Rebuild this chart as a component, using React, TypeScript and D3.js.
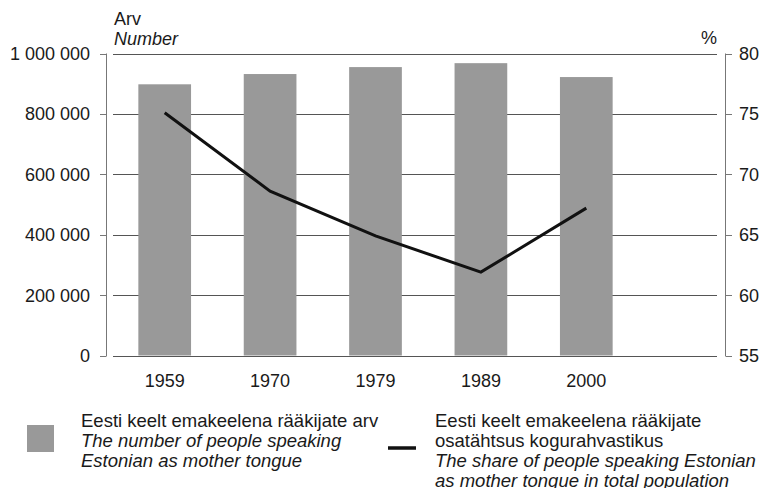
import React from "react";
import * as d3 from "d3";

const years = ["1959", "1970", "1979", "1989", "2000"];
const speakers = [898000, 932000, 955000, 968000, 922000];
const sharePct = [75.1, 68.6, 64.9, 61.9, 67.2];
const leftTicks = [0, 200000, 400000, 600000, 800000, 1000000];
const leftTickLabels = ["0", "200 000", "400 000", "600 000", "800 000", "1 000 000"];
const rightTicks = [55, 60, 65, 70, 75, 80];
const rightTickLabels = ["55", "60", "65", "70", "75", "80"];
const leftTitle = ["Arv", "Number"];
const rightTitle = "%";
const legendBar = ["Eesti keelt emakeelena rääkijate arv", "The number of people speaking", "Estonian as mother tongue"];
const legendLine = [
  "Eesti keelt emakeelena rääkijate",
  "osatähtsus kogurahvastikus",
  "The share of people speaking Estonian",
  "as mother tongue in total population",
];

const W = 763;
const H = 488;
const TOP = 53.5;
const BOTTOM = 355.5;
const FONT = "'Liberation Sans', Arial, sans-serif";

export default function App() {
  const yL = d3.scaleLinear().domain([0, 1000000]).range([BOTTOM, TOP]);
  const yR = d3.scaleLinear().domain([55, 80]).range([BOTTOM, TOP]);
  const x = d3.scaleBand<string>().domain(years).range([112, 639]).paddingInner(0.5).paddingOuter(0.25);
  const line = d3
    .line<number>()
    .x((_, i) => (x(years[i]) as number) + x.bandwidth() / 2)
    .y((d) => yR(d));

  const gridX0 = 113;
  const gridX1 = 717;
  const axL = 106.5;
  const axR = 725.5;
  const fs = 18;
  const lfs = 18.5;
  const lh = 20;
  const txt = "#1a1a1a";

  return (
    <svg width={W} height={H} style={{ position: "absolute", left: 0, top: 0, fontFamily: FONT }}>
      <rect width={W} height={H} fill="#fff" />
      {leftTicks.map((t) => (
        <line key={"g" + t} x1={gridX0} x2={gridX1} y1={Math.round(yL(t)) + 0.5} y2={Math.round(yL(t)) + 0.5} stroke="#555" strokeWidth={1} />
      ))}
      {speakers.map((v, i) => (
        <rect key={"b" + i} x={x(years[i])} y={yL(v)} width={x.bandwidth()} height={BOTTOM - yL(v)} fill="#999999" />
      ))}
      <path d={line(sharePct) || ""} fill="none" stroke="#111" strokeWidth={3} strokeLinejoin="miter" />
      <line x1={axL} x2={axL} y1={TOP} y2={BOTTOM + 0.5} stroke="#777" strokeWidth={1} />
      {leftTicks.map((t, i) => (
        <g key={"lt" + t}>
          <line x1={100} x2={axL} y1={Math.round(yL(t)) + 0.5} y2={Math.round(yL(t)) + 0.5} stroke="#777" />
          <text x={90} y={yL(t)} dy="0.36em" textAnchor="end" fontSize={fs} fill={txt}>
            {leftTickLabels[i]}
          </text>
        </g>
      ))}
      <line x1={axR} x2={axR} y1={TOP} y2={BOTTOM + 0.5} stroke="#777" strokeWidth={1} />
      {rightTicks.map((t, i) => (
        <g key={"rt" + t}>
          <line x1={axR} x2={732} y1={Math.round(yR(t)) + 0.5} y2={Math.round(yR(t)) + 0.5} stroke="#777" />
          <text x={739} y={yR(t)} dy="0.36em" textAnchor="start" fontSize={fs} fill={txt}>
            {rightTickLabels[i]}
          </text>
        </g>
      ))}
      {years.map((yr) => (
        <text key={"x" + yr} x={(x(yr) as number) + x.bandwidth() / 2} y={387} textAnchor="middle" fontSize={fs} fill={txt}>
          {yr}
        </text>
      ))}
      <text x={114} y={25} fontSize={fs} fill={txt}>{leftTitle[0]}</text>
      <text x={114} y={45} fontSize={fs} fontStyle="italic" fill={txt}>{leftTitle[1]}</text>
      <text x={717} y={43.5} fontSize={fs} textAnchor="end" fill={txt}>{rightTitle}</text>
      <rect x={27} y={425} width={27} height={27} fill="#999999" />
      {legendBar.map((s, i) => (
        <text key={"lb" + i} x={81} y={427 + i * lh} fontSize={lfs} fontStyle={i === 0 ? "normal" : "italic"} fill={txt}>
          {s}
        </text>
      ))}
      <line x1={388} x2={416} y1={448} y2={448} stroke="#111" strokeWidth={3.5} />
      {legendLine.map((s, i) => (
        <text key={"ll" + i} x={435} y={427 + i * lh} fontSize={lfs} fontStyle={i < 2 ? "normal" : "italic"} fill={txt}>
          {s}
        </text>
      ))}
    </svg>
  );
}
